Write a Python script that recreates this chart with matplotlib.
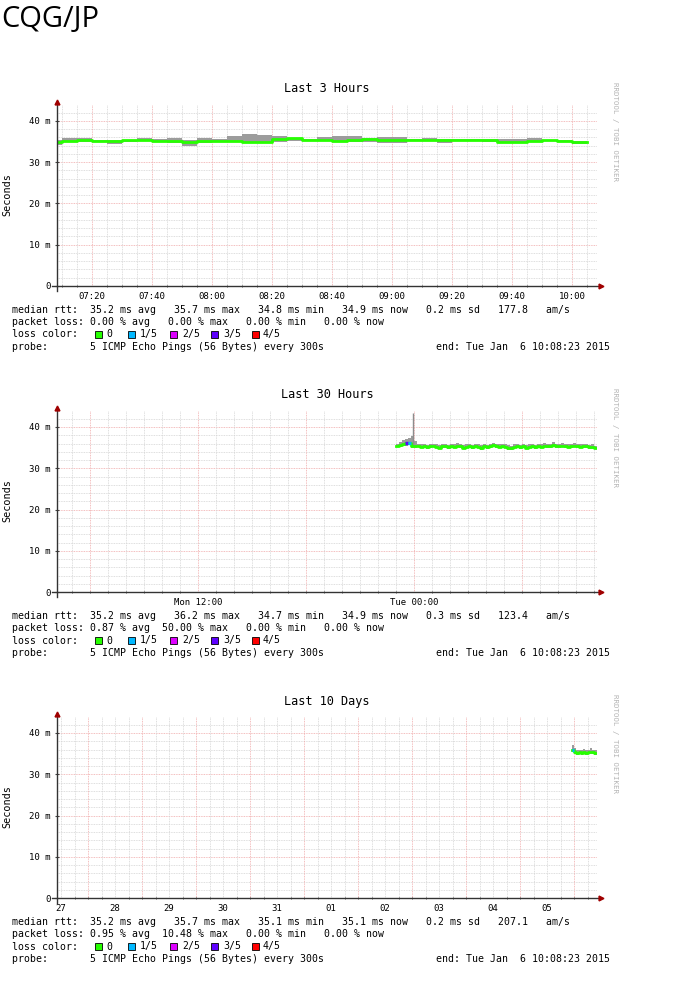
import numpy as np
import matplotlib
matplotlib.use('Agg')
import matplotlib.pyplot as plt
import matplotlib.dates as mdates
from matplotlib.patches import Rectangle
from matplotlib.lines import Line2D

plt.rcParams['font.family'] = ['DejaVu Sans Mono']

W, H = 689, 981

# ---- data ----------------------------------------------------------------
end_time = np.datetime64('2015-01-06T10:08:23')

# Last 3 Hours : 5 min steps from 07:05
t1_start = np.datetime64('2015-01-06T07:05')
med1 = [35.0, 35.2, 35.3, 35.2, 35.2, 35.3, 35.4, 35.2, 35.2, 35.0, 35.2, 35.1,
        35.1, 35.0, 35.0, 35.7, 35.8, 35.5, 35.3, 35.2, 35.3, 35.6, 35.4, 35.3,
        35.5, 35.5, 35.4, 35.5, 35.5, 35.5, 35.0, 34.9, 35.1, 35.3, 35.1, 34.8]
lo1 = [34.2, 34.9, 35.0, 35.0, 34.5, 35.0, 35.1, 34.9, 34.7, 34.0, 34.7, 34.9,
       34.9, 34.9, 34.9, 35.0, 35.2, 35.3, 35.1, 35.0, 35.0, 35.0, 34.7, 34.7,
       35.2, 35.2, 34.7, 35.2, 35.2, 35.0, 34.8, 34.7, 34.9, 35.1, 34.9, 34.4]
hi1 = [35.5, 35.8, 35.9, 35.4, 35.4, 35.5, 35.8, 35.7, 35.8, 35.3, 35.8, 35.7,
       36.3, 36.8, 36.6, 36.3, 36.0, 35.7, 36.1, 36.3, 36.3, 35.8, 36.1, 36.1,
       35.7, 35.8, 35.6, 35.7, 35.7, 35.6, 35.6, 35.6, 35.8, 35.5, 35.4, 35.1]
loss1 = [0] * 36

# Last 30 Hours : 10 min steps from Mon 23:00
t2_start = np.datetime64('2015-01-05T23:00')
med2 = [35.4, 35.6, 35.9, 36.1, 36.2, 35.5,
        35.3, 35.5, 35.2, 35.4, 35.1, 35.3,
        35.5, 35.2, 35.0, 35.3, 35.4, 35.1,
        35.3, 35.2, 35.5, 35.3, 35.0, 35.2,
        35.4, 35.1, 35.3, 35.2, 35.0, 35.3,
        35.1, 35.4, 35.6, 35.3, 35.2, 35.4,
        35.2, 35.0, 34.9, 35.2, 35.3, 35.1,
        35.3, 35.0, 35.2, 35.4, 35.1, 35.3,
        35.2, 35.5, 35.3, 35.4, 35.6, 35.4,
        35.3, 35.5, 35.4, 35.2, 35.3, 35.5,
        35.4, 35.2, 35.3, 35.4, 35.1, 35.2,
        35.0]
hi2 = [35.9, 36.3, 36.8, 37.0, 37.3, 37.8,
       36.6, 36.0, 35.8, 36.0, 35.7, 35.9,
       36.0, 35.8, 35.6, 35.9, 36.0, 35.7,
       35.9, 35.8, 36.1, 35.9, 35.6, 35.8,
       36.0, 35.7, 35.9, 35.8, 35.6, 35.9,
       35.7, 36.0, 36.2, 35.9, 35.8, 36.0,
       35.8, 35.6, 35.5, 35.8, 35.9, 35.7,
       35.9, 35.6, 35.8, 36.0, 35.7, 35.9,
       35.8, 36.1, 35.9, 36.0, 36.4, 36.0,
       35.9, 36.1, 36.0, 35.8, 35.9, 36.1,
       36.0, 35.8, 35.9, 36.0, 35.7, 35.8,
       35.5]
lo2 = [35.1, 35.2, 35.4, 35.5, 35.6, 35.0,
       34.9, 35.1, 34.8, 35.0, 34.7, 34.9,
       35.1, 34.8, 34.6, 34.9, 35.0, 34.7,
       34.9, 34.8, 35.1, 34.9, 34.6, 34.8,
       35.0, 34.7, 34.9, 34.8, 34.5, 34.9,
       34.7, 35.0, 35.2, 34.9, 34.8, 35.0,
       34.8, 34.5, 34.4, 34.8, 34.9, 34.7,
       34.9, 34.6, 34.8, 35.0, 34.7, 34.9,
       34.8, 35.1, 34.9, 35.0, 35.2, 35.0,
       34.9, 35.1, 35.0, 34.8, 34.9, 35.1,
       35.0, 34.8, 34.9, 35.0, 34.7, 34.7,
       34.6]
loss2 = [0, 0, 0, 3, 1] + [0] * 62
spike2_time = np.datetime64('2015-01-05T23:55')
spike2_max = 43.5

# Last 10 Days : hourly from Mon 23:00
t3_start = np.datetime64('2015-01-05T23:00')
med3 = [36.0, 35.4, 35.2, 35.3, 35.2, 35.3, 35.2, 35.3, 35.4, 35.3, 35.2]
lo3 = [35.3, 34.8, 34.7, 34.8, 34.6, 34.8, 34.6, 34.8, 34.9, 34.8, 34.7]
hi3 = [37.2, 36.3, 35.9, 36.0, 35.9, 36.1, 35.9, 36.0, 36.3, 36.0, 35.9]
loss3 = [1, 0, 0, 0, 0, 0, 0, 0, 0, 0, 0]

loss_colors = ['#26ff00', '#00b8ff', '#dd00ff', '#5e00ff', '#ff0000']
loss_labels = ['0', '1/5', '2/5', '3/5', '4/5']

stat_lines = [
    ("median rtt:  35.2 ms avg   35.7 ms max   34.8 ms min   34.9 ms now   0.2 ms sd   177.8   am/s",
     "packet loss: 0.00 % avg   0.00 % max   0.00 % min   0.00 % now"),
    ("median rtt:  35.2 ms avg   36.2 ms max   34.7 ms min   34.9 ms now   0.3 ms sd   123.4   am/s",
     "packet loss: 0.87 % avg  50.00 % max   0.00 % min   0.00 % now"),
    ("median rtt:  35.2 ms avg   35.7 ms max   35.1 ms min   35.1 ms now   0.2 ms sd   207.1   am/s",
     "packet loss: 0.95 % avg  10.48 % max   0.00 % min   0.00 % now"),
]

panels = [
    dict(title='Last 3 Hours', span=np.timedelta64(3, 'h'), t0=t1_start,
         step=np.timedelta64(5, 'm'), med=med1, lo=lo1, hi=hi1, loss=loss1,
         minor=(np.datetime64('2015-01-06T07:10'), np.timedelta64(5, 'm')),
         major=(np.datetime64('2015-01-06T07:20'), np.timedelta64(20, 'm')),
         labels=(np.datetime64('2015-01-06T07:20'), np.timedelta64(20, 'm')),
         fmt='%H:%M'),
    dict(title='Last 30 Hours', span=np.timedelta64(30, 'h'), t0=t2_start,
         step=np.timedelta64(10, 'm'), med=med2, lo=lo2, hi=hi2, loss=loss2,
         minor=(np.datetime64('2015-01-05T05:00'), np.timedelta64(1, 'h')),
         major=(np.datetime64('2015-01-05T06:00'), np.timedelta64(6, 'h')),
         labels=(np.datetime64('2015-01-05T12:00'), np.timedelta64(12, 'h')),
         fmt='%a %H:%M'),
    dict(title='Last 10 Days', span=np.timedelta64(240, 'h'), t0=t3_start,
         step=np.timedelta64(1, 'h'), med=med3, lo=lo3, hi=hi3, loss=loss3,
         minor=(np.datetime64('2014-12-27T12:00'), np.timedelta64(6, 'h')),
         major=(np.datetime64('2014-12-28T00:00'), np.timedelta64(24, 'h')),
         labels=(np.datetime64('2014-12-27T12:00'), np.timedelta64(24, 'h')),
         fmt='%d'),
]


def fx(px):
    return px / W


def fy(py):
    return 1 - py / H


def num(t):
    return mdates.date2num(t)


fig = plt.figure(figsize=(W / 100, H / 100), dpi=100)

fig.text(fx(1), fy(20), 'CQG/JP', family='Open Sans', fontsize=21, va='center', ha='left')

for i, p in enumerate(panels):
    off = 306 * i
    base = 286 + off
    ax = fig.add_axes([fx(57), fy(base), 540 / W, 181.5 / H])
    start = end_time - p['span']
    ax.set_xlim(num(start), num(end_time))
    ax.set_ylim(0, 44)
    for s in ax.spines.values():
        s.set_visible(False)

    # grid
    for yv in np.arange(2, 44, 2):
        col = '#f0a8a8' if yv % 10 == 0 else '#d4d4d4'
        ax.axhline(yv, color=col, lw=0.6, ls=(0, (1, 1)), zorder=0)
    minor_t = np.arange(p['minor'][0], end_time, p['minor'][1])
    major_t = np.arange(p['major'][0], end_time, p['major'][1])
    for t in minor_t:
        if t not in major_t:
            ax.axvline(num(t), color='#d4d4d4', lw=0.6, ls=(0, (1, 1)), zorder=0)
    for t in major_t:
        ax.axvline(num(t), color='#f0a8a8', lw=0.6, ls=(0, (1, 1)), zorder=0)

    # data: smoke, then median coloured by loss
    n = len(p['med'])
    edges = num(p['t0'] + np.arange(n + 1) * p['step'])
    med = np.array(p['med'] + [p['med'][-1]])
    lo = np.array(p['lo'] + [p['lo'][-1]])
    hi = np.array(p['hi'] + [p['hi'][-1]])
    ax.fill_between(edges, lo, hi, step='post', color='#9c9c9c', lw=0, zorder=2)
    if i == 1:
        ax.vlines(num(spike2_time), 35.5, spike2_max, color='#8c8c8c', lw=1, zorder=2)
    ax.step(edges, med, where='post', color=loss_colors[0], lw=2.0, zorder=3)
    for k, l in enumerate(p['loss']):
        if l > 0:
            ax.hlines(p['med'][k], edges[k], edges[k + 1], color=loss_colors[l], lw=2.4, zorder=4)

    # ticks
    lab_t = np.arange(p['labels'][0], end_time, p['labels'][1])
    lab_t = lab_t[lab_t > start]
    ax.set_xticks(num(lab_t))
    ax.set_xticklabels([mdates.num2date(num(t)).strftime(p['fmt']) for t in lab_t])
    ax.set_xticks(num(minor_t), minor=True)
    ax.set_yticks([0, 10, 20, 30, 40])
    ax.set_yticklabels(['0', '10 m', '20 m', '30 m', '40 m'])
    ax.tick_params(axis='x', which='major', length=0, pad=4, labelsize=6.5)
    ax.tick_params(axis='x', which='minor', length=2, direction='inout', color='#444444')
    ax.tick_params(axis='y', length=3, direction='inout', color='#444444', pad=3, labelsize=6.5)

    # axes with arrows
    fig.add_artist(Line2D([fx(52), fx(600)], [fy(base), fy(base)], color='#333333', lw=1))
    fig.add_artist(Line2D([fx(57), fx(57)], [fy(base + 5), fy(base - 183)], color='#333333', lw=1))
    fig.add_artist(Line2D([fx(601)], [fy(base)], marker='>', ms=3.5, color='#a00000', ls='none'))
    fig.add_artist(Line2D([fx(57)], [fy(base - 184)], marker='^', ms=3.5, color='#a00000', ls='none'))

    # texts
    fig.text(fx(327), fy(89 + off), p['title'], ha='center', va='center', fontsize=8.6)
    fig.text(fx(7), fy(195 + off), 'Seconds', rotation=90, ha='center', va='center', fontsize=7.3)
    fig.text(fx(615), fy(82 + off), 'RRDTOOL / TOBI OETIKER', rotation=-90, ha='center', va='top',
             fontsize=5.3, color='#b4b4b4')

    fs = 7.15
    l1, l2 = stat_lines[i]
    fig.text(fx(12), fy(310 + off), l1, va='center', fontsize=fs)
    fig.text(fx(12), fy(322 + off), l2, va='center', fontsize=fs)
    fig.text(fx(12), fy(334.5 + off), 'loss color:', va='center', fontsize=fs)
    sq_x = [95, 128, 170, 211, 252]
    lb_x = [106, 140, 182, 223, 263]
    for c, lab, sx, lx in zip(loss_colors, loss_labels, sq_x, lb_x):
        fig.add_artist(Rectangle((fx(sx), fy(338 + off)), 7 / W, 7 / H, transform=fig.transFigure,
                                 facecolor=c, edgecolor='black', lw=0.6))
        fig.text(fx(lx), fy(334.5 + off), lab, va='center', fontsize=fs)
    fig.text(fx(12), fy(347 + off), 'probe:       5 ICMP Echo Pings (56 Bytes) every 300s',
             va='center', fontsize=fs)
    fig.text(fx(610), fy(347 + off), 'end: Tue Jan  6 10:08:23 2015', ha='right', va='center', fontsize=fs)

fig.savefig('out.png', dpi=100)
